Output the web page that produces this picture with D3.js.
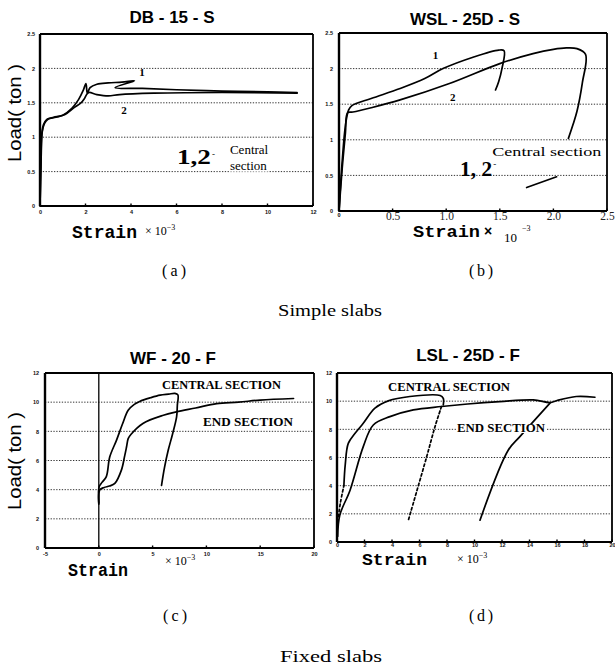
<!DOCTYPE html>
<html><head><meta charset="utf-8">
<script src="https://cdn.jsdelivr.net/npm/d3@7"></script>
<style>body{margin:0;background:#fff}svg{display:block}</style>
</head><body>
<svg id="chart" width="615" height="667"></svg>
<script>
// ---------------- DATA ----------------
const panelTitles = ["DB - 15 - S", "WSL - 25D - S", "WF - 20 - F", "LSL - 25D - F"];
const panelCaptions = ["(a)", "(b)", "(c)", "(d)"];
const groupCaptions = ["Simple slabs", "Fixed slabs"];

// (a) DB-15-S  strain (x10^-3) vs load (ton)
const aTicksX = [0, 2, 4, 6, 8, 10, 12];
const aTicksY = [0, 0.5, 1, 1.5, 2, 2.5];
const aStrain1 = [0, 0.04, 0.08, 0.15, 0.3, 0.6, 1.0, 1.4, 1.7, 1.9, 2.02, 2.08, 2.2, 2.5, 3.0, 3.6, 4.15, 3.3, 4.5, 6.0, 8.0, 10.0, 11.3];
const aLoad1   = [0, 0.6, 1.05, 1.18, 1.26, 1.29, 1.32, 1.42, 1.55, 1.68, 1.78, 1.64, 1.72, 1.77, 1.79, 1.8, 1.82, 1.72, 1.71, 1.69, 1.67, 1.66, 1.65];
const aStrain2 = [0, 0.05, 0.1, 0.2, 0.35, 0.7, 1.1, 1.5, 1.8, 1.95, 2.05, 2.15, 2.5, 3.0, 3.5, 5.0, 8.0, 11.3];
const aLoad2   = [0, 0.7, 1.08, 1.2, 1.26, 1.29, 1.33, 1.43, 1.5, 1.56, 1.62, 1.65, 1.62, 1.6, 1.62, 1.64, 1.65, 1.64];

// (b) WSL-25D-S
const bTicksX = [0.5, 1.0, 1.5, 2.0, 2.5];
const bTicksY = [0, 0.5, 1, 1.5, 2, 2.5];
const bStrain1 = [0, 0.03, 0.06, 0.09, 0.12, 0.3, 0.57, 0.8, 0.97, 1.25, 1.49, 1.54, 1.52, 1.49, 1.46];
const bLoad1   = [0, 0.7, 1.2, 1.42, 1.48, 1.58, 1.72, 1.86, 2.0, 2.16, 2.26, 2.25, 2.0, 1.82, 1.7];
const bStrain2 = [0, 0.03, 0.06, 0.08, 0.13, 0.3, 0.57, 1.03, 1.5, 1.81, 2.0, 2.12, 2.22, 2.3, 2.27, 2.22, 2.18, 2.14];
const bLoad2   = [0, 0.6, 1.1, 1.38, 1.39, 1.45, 1.56, 1.79, 2.07, 2.21, 2.27, 2.29, 2.28, 2.2, 1.8, 1.4, 1.2, 1.02];
const bStrain3 = [1.75, 2.03];
const bLoad3   = [0.33, 0.48];

// (c) WF-20-F
const cTicksX = [-5, 0, 5, 10, 15, 20];
const cTicksY = [0, 2, 4, 6, 8, 10, 12];
const cStrainCentral = [0, 0.03, 0.3, 0.7, 1.02, 1.65, 2.2, 2.73, 3.3, 3.8, 4.8, 5.7, 6.5, 7.07, 7.35, 7.3, 7.23, 6.85, 6.45, 6.1, 5.83];
const cLoadCentral   = [3.1, 4.2, 4.5, 4.9, 6.25, 7.4, 8.5, 9.45, 9.85, 10.05, 10.3, 10.48, 10.55, 10.6, 10.5, 9.8, 8.99, 7.8, 6.7, 5.5, 4.3];
const cStrainEnd = [0, 0.1, 0.5, 1.0, 1.49, 2.1, 2.4, 2.58, 2.73, 3.0, 4.1, 6.0, 7.2, 9.0, 10.96, 13, 15, 18.1];
const cLoadEnd   = [3.0, 4.0, 4.15, 4.25, 4.43, 5.34, 6.3, 6.94, 7.5, 7.8, 8.54, 9.1, 9.33, 9.6, 9.9, 10.0, 10.14, 10.25];

// (d) LSL-25D-F
const dTicksX = [0, 2, 4, 6, 8, 10, 12, 14, 16, 18, 20];
const dTicksY = [0, 2, 4, 6, 8, 10, 12];
const dStrainCentralA = [0.1, 0.25, 0.5];
const dLoadCentralA   = [1.8, 2.8, 4.0];
const dStrainCentral = [0.5, 0.6, 0.82, 1.3, 1.91, 2.76, 3.73, 5.3, 7.5, 7.73, 7.73];
const dLoadCentral   = [4.0, 5.5, 7.0, 7.7, 8.43, 9.5, 10.02, 10.33, 10.4, 10.2, 9.74];
const dStrainUnload1 = [7.6, 7.13, 6.52, 5.19];
const dLoadUnload1   = [9.62, 8.2, 6.05, 1.55];
const dStrainEnd = [0.05, 0.2, 0.95, 1.91, 2.64, 3.85, 5.55, 7.6, 9.5, 11.85, 14.28, 15.5, 16.0, 17.4, 18.76];
const dLoadEnd   = [0.4, 1.9, 3.68, 6.77, 8.31, 8.9, 9.38, 9.62, 9.8, 9.97, 10.09, 9.9, 10.05, 10.33, 10.28];
const dStrainUnload2 = [15.49, 13.3, 12.46, 10.4];
const dLoadUnload2   = [9.86, 7.48, 6.53, 1.55];

// ---------------- DRAWING ----------------
const svg = d3.select("#chart");
const zip = (xs, ys) => xs.map((v, i) => [v, ys[i]]);
const tickFont = "Liberation Sans, Arial, sans-serif";
const serif = "Liberation Serif, Times New Roman, serif";

function makePanel(cfg) {
  const x = d3.scaleLinear().domain(cfg.xDomain).range([cfg.left, cfg.right]);
  const y = d3.scaleLinear().domain(cfg.yDomain).range([cfg.bottom, cfg.top]);
  const g = svg.append("g");
  g.selectAll("line.grid").data(cfg.grid).join("line")
    .attr("x1", cfg.left).attr("x2", cfg.right)
    .attr("y1", d => y(d)).attr("y2", d => y(d))
    .attr("stroke", "#333").attr("stroke-width", 1)
    .attr("stroke-dasharray", "1.3,1.5");
  const ya = d3.axisLeft(y).tickValues(cfg.yTicks).tickSize(0).tickPadding(cfg.yPad)
    .tickFormat(d => String(d));
  const yg = g.append("g").attr("transform", `translate(${cfg.left},0)`).call(ya);
  yg.select(".domain").remove();
  yg.selectAll("text").attr("font-size", 5.5).attr("font-weight", "bold").attr("font-family", tickFont).attr("fill", "#111");
  if (cfg.xTicks) {
    const xa = d3.axisBottom(x).tickValues(cfg.xTicks).tickSize(0).tickPadding(cfg.xPad)
      .tickFormat(d => String(d));
    const xg = g.append("g").attr("transform", `translate(0,${cfg.bottom})`).call(xa);
    xg.select(".domain").remove();
    xg.selectAll("text").attr("font-size", 5.5).attr("font-weight", "bold").attr("font-family", tickFont).attr("fill", "#111");
    g.selectAll("line.tk").data(cfg.xTicks).join("line")
      .attr("x1", d => x(d)).attr("x2", d => x(d))
      .attr("y1", cfg.bottom).attr("y2", cfg.bottom - 2.5)
      .attr("stroke", "#000").attr("stroke-width", 1.4);
  }
  const fr = g.append("g").attr("stroke", "#000").attr("fill", "none");
  fr.append("line").attr("x1", cfg.left).attr("x2", cfg.right).attr("y1", cfg.top).attr("y2", cfg.top).attr("stroke-width", 1.8);
  fr.append("line").attr("x1", cfg.right).attr("x2", cfg.right).attr("y1", cfg.top).attr("y2", cfg.bottom).attr("stroke-width", 1.8);
  fr.append("line").attr("x1", cfg.left).attr("x2", cfg.right).attr("y1", cfg.bottom).attr("y2", cfg.bottom).attr("stroke-width", 2);
  fr.append("line").attr("x1", cfg.left).attr("x2", cfg.left).attr("y1", cfg.top).attr("y2", cfg.bottom).attr("stroke-width", 2.4);
  svg.append("text").attr("x", (cfg.titleX)).attr("y", cfg.titleY)
    .attr("text-anchor", "middle").attr("font-family", tickFont).attr("font-weight", "bold")
    .attr("font-size", 17).text(cfg.title);
  return { x, y, g };
}

const line = (p) => d3.line().x(d => p.x(d[0])).y(d => p.y(d[1])).curve(d3.curveCatmullRom.alpha(0.5));
function drawCurve(p, pts, dashed) {
  p.g.append("path").attr("d", line(p)(pts)).attr("fill", "none").attr("stroke", "#000")
    .attr("stroke-width", 1.7).attr("stroke-linejoin", "round").attr("stroke-linecap", "round")
    .attr("stroke-dasharray", dashed ? "2.5,2.5" : null);
}
function label(p, sx, ly, txt, opts) {
  const t = p.g.append("text").attr("x", p.x(sx)).attr("y", p.y(ly))
    .attr("font-family", opts.font || serif).attr("font-size", opts.size)
    .attr("font-weight", opts.weight || "normal")
    .attr("text-anchor", opts.anchor || "start").text(txt);
  if (opts.len) t.attr("textLength", opts.len).attr("lengthAdjust", "spacingAndGlyphs");
  if (opts.bg) {
    const b = t.node().getBBox();
    p.g.insert("rect", () => t.node()).attr("x", b.x - 1).attr("y", b.y + 2).attr("width", b.width + 2).attr("height", b.height - 3).attr("fill", "#fff");
  }
  return t;
}
function yTitle(x, y) {
  svg.append("text").attr("transform", `translate(${x},${y}) rotate(-90)`)
    .attr("text-anchor", "middle").attr("font-family", tickFont).attr("font-size", 18)
    .attr("textLength", 98).attr("lengthAdjust", "spacingAndGlyphs").text("Load( ton )");
}
function strainLabel(x, y, x2, y2, len, size) {
  svg.append("text").attr("x", x).attr("y", y).attr("font-family", "Liberation Mono, Courier New, monospace")
    .attr("font-weight", "bold").attr("font-size", size).attr("textLength", len).attr("lengthAdjust", "spacingAndGlyphs").text("Strain");
  const t = svg.append("text").attr("x", x2).attr("y", y2).attr("font-family", serif).attr("font-size", 12);
  t.append("tspan").text("× 10");
  t.append("tspan").attr("dy", -5).attr("font-size", 8).text("−3");
}

// ---- panel (a)
const pa = makePanel({ xDomain: [0, 12], yDomain: [0, 2.5], left: 40, right: 313, top: 34, bottom: 206,
  grid: [0.5, 1, 1.5, 2], yTicks: aTicksY, xTicks: aTicksX, yPad: 5, xPad: 4,
  title: panelTitles[0], titleX: 172, titleY: 23 });
drawCurve(pa, zip(aStrain1, aLoad1));
drawCurve(pa, zip(aStrain2, aLoad2));
label(pa, 4.48, 1.89, "1", { size: 11, weight: "bold", anchor: "middle" });
label(pa, 3.69, 1.34, "2", { size: 11, weight: "bold", anchor: "middle" });
label(pa, 6.02, 0.61, "1,2", { size: 21, weight: "bold", len: 34 });
pa.g.append("text").attr("x", pa.x(6.02) + 35).attr("y", pa.y(0.61) - 7).attr("font-size", 9).attr("font-family", serif).text("-");
label(pa, 8.35, 0.76, "Central", { size: 13 });
label(pa, 8.35, 0.53, "section", { size: 13, bg: true });
yTitle(21, 113);
strainLabel(72, 238, 145, 235, 65, 18);

// ---- panel (b)
const pb = makePanel({ xDomain: [0, 2.5], yDomain: [0, 2.5], left: 339, right: 607, top: 33, bottom: 211,
  grid: [0.5, 1, 1.5, 2], yTicks: bTicksY, xTicks: null, yPad: 6, xPad: 0,
  title: panelTitles[1], titleX: 465, titleY: 25 });
{
  const xa = d3.axisBottom(pb.x).tickValues(bTicksX).tickSize(0).tickPadding(1).tickFormat(d3.format(".1f"));
  const xg = pb.g.append("g").attr("transform", `translate(0,${211})`).call(xa);
  xg.select(".domain").remove();
  xg.selectAll("text").attr("font-size", 11.5).attr("font-family", serif).attr("fill", "#222");
  pb.g.selectAll("line.tk").data(bTicksX).join("line")
    .attr("x1", d => pb.x(d)).attr("x2", d => pb.x(d)).attr("y1", 211).attr("y2", 208.5)
    .attr("stroke", "#000").attr("stroke-width", 1.4);
  pb.g.append("text").attr("x", pb.x(0)).attr("y", 217).attr("text-anchor", "middle")
    .attr("font-size", 5.5).attr("font-weight", "bold").attr("font-family", tickFont).text("0");
}
drawCurve(pb, zip(bStrain1, bLoad1));
drawCurve(pb, zip(bStrain2, bLoad2));
drawCurve(pb, zip(bStrain3, bLoad3));
label(pb, 0.9, 2.13, "1", { size: 11, weight: "bold", anchor: "middle" });
label(pb, 1.06, 1.54, "2", { size: 11, weight: "bold", anchor: "middle" });
label(pb, 1.13, 0.49, "1, 2", { size: 20, weight: "bold", len: 32 });
pb.g.append("text").attr("x", pb.x(1.13) + 33).attr("y", pb.y(0.49) - 9).attr("font-size", 9).attr("font-family", serif).text("-");
label(pb, 1.43, 0.77, "Central section", { size: 13, len: 109 });
{
  svg.append("text").attr("x", 413).attr("y", 237).attr("font-family", "Liberation Mono, Courier New, monospace")
    .attr("font-weight", "bold").attr("font-size", 17).attr("textLength", 67).attr("lengthAdjust", "spacingAndGlyphs").text("Strain");
  svg.append("text").attr("x", 484).attr("y", 236).attr("font-family", tickFont).attr("font-weight", "bold").attr("font-size", 14).text("×");
  svg.append("text").attr("x", 504).attr("y", 242).attr("font-family", serif).attr("font-size", 13).text("10");
  svg.append("text").attr("x", 522).attr("y", 231).attr("font-family", serif).attr("font-size", 8).text("−3");
}

// ---- panel (c)
const pc = makePanel({ xDomain: [-5, 20], yDomain: [0, 12], left: 45, right: 314, top: 373, bottom: 548,
  grid: [2, 4, 6, 8, 10], yTicks: cTicksY, xTicks: cTicksX, yPad: 6, xPad: 4,
  title: panelTitles[2], titleX: 173, titleY: 364 });
pc.g.append("line").attr("x1", pc.x(0)).attr("x2", pc.x(0)).attr("y1", pc.y(0)).attr("y2", pc.y(12))
  .attr("stroke", "#000").attr("stroke-width", 1.3);
drawCurve(pc, zip(cStrainCentral, cLoadCentral));
drawCurve(pc, zip(cStrainEnd, cLoadEnd));
label(pc, 5.87, 10.9, "CENTRAL SECTION", { size: 11.5, weight: "bold", len: 119 });
label(pc, 9.68, 8.36, "END SECTION", { size: 11.5, weight: "bold", len: 90 });
yTitle(21, 461);
strainLabel(68, 576, 165, 565, 60, 18);

// ---- panel (d)
const pd = makePanel({ xDomain: [0, 20], yDomain: [0, 12], left: 337, right: 612, top: 373, bottom: 542,
  grid: [2, 4, 6, 8, 10], yTicks: dTicksY, xTicks: dTicksX, yPad: 5, xPad: 1,
  title: panelTitles[3], titleX: 468, titleY: 361 });
drawCurve(pd, zip(dStrainCentralA, dLoadCentralA), true);
drawCurve(pd, zip(dStrainCentral, dLoadCentral));
drawCurve(pd, zip(dStrainUnload1, dLoadUnload1), true);
drawCurve(pd, zip(dStrainEnd, dLoadEnd));
drawCurve(pd, zip(dStrainUnload2, dLoadUnload2));
label(pd, 3.71, 10.73, "CENTRAL SECTION", { size: 11.5, weight: "bold", len: 122 });
label(pd, 8.73, 7.81, "END SECTION", { size: 11.5, weight: "bold", len: 88, bg: true });
strainLabel(362, 565, 457, 563, 65, 17);

// ---- captions
const capY = [276, 621];
[[174, 0, 0], [481, 0, 1], [175, 1, 2], [481, 1, 3]].forEach(([cx, row, i]) => {
  svg.append("text").attr("x", cx).attr("y", capY[row]).attr("text-anchor", "middle")
    .attr("font-family", serif).attr("font-size", 16).attr("textLength", 24).attr("lengthAdjust", "spacing").text(panelCaptions[i]);
});
svg.append("text").attr("x", 330).attr("y", 316).attr("text-anchor", "middle").attr("font-family", serif)
  .attr("font-size", 17).attr("textLength", 104).attr("lengthAdjust", "spacingAndGlyphs").text(groupCaptions[0]);
svg.append("text").attr("x", 331).attr("y", 662).attr("text-anchor", "middle").attr("font-family", serif)
  .attr("font-size", 17).attr("textLength", 102).attr("lengthAdjust", "spacingAndGlyphs").text(groupCaptions[1]);
</script>
</body></html>
